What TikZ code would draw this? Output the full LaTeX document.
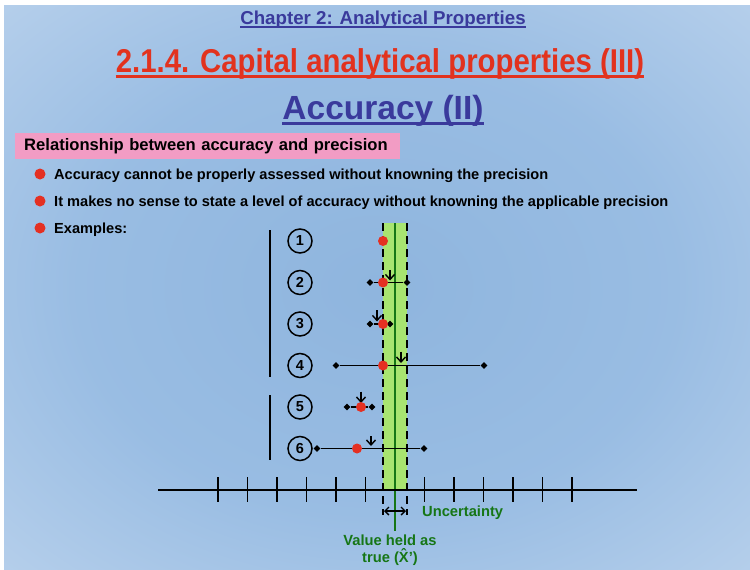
\documentclass[tikz,border=0pt]{standalone}
\usepackage{fontspec}
\setmainfont{Liberation Sans}
\newfontfamily\narrowsans{Liberation Sans}[FakeStretch=0.89]
\usepackage{tikz}
\usetikzlibrary{arrows.meta,positioning,shapes.geometric}

\definecolor{chapblue}{RGB}{58,58,156}
\definecolor{titlered}{RGB}{226,50,30}
\definecolor{truegreen}{RGB}{22,118,22}
\definecolor{bandgreen}{RGB}{168,228,112}
\definecolor{boxpink}{RGB}{242,156,196}
\definecolor{dotred}{RGB}{228,48,34}
\pgfdeclareradialshading{slidebg}{\pgfpoint{0bp}{0bp}}{rgb(0bp)=(0.56,0.71,0.87);rgb(20bp)=(0.60,0.74,0.89);rgb(40bp)=(0.74,0.83,0.93);rgb(55bp)=(0.88,0.88,0.95);rgb(70bp)=(0.96,0.91,0.97);rgb(80bp)=(0.96,0.91,0.97)}

\begin{document}
\begin{tikzpicture}[
    x=1pt, y=-1pt,
    heading/.style={inner sep=0pt, anchor=base, font=\bfseries},
    pinkbox/.style={fill=boxpink, inner xsep=9pt, text width=367pt, align=left, minimum height=26pt, anchor=west, font=\bfseries\fontsize{16.6}{18}\selectfont},
    bullet/.style={circle, fill=dotred, inner sep=0pt, minimum size=11pt},
    item/.style={inner sep=0pt, anchor=base west, font=\bfseries\fontsize{14.6}{16}\selectfont},
    numcirc/.style={circle, draw, line width=1.5pt, inner sep=0pt, minimum size=24pt, font=\bfseries\fontsize{14.5}{15}\selectfont},
    reddot/.style={circle, fill=dotred, inner sep=0pt, minimum size=10pt},
    barend/.style={diamond, fill=black, inner sep=0pt, minimum size=7pt},
    errbar/.style={line width=1.7pt},
    meanarrow/.style={-{Straight Barb[length=5pt,width=9pt]}, line width=1.4pt},
    limit/.style={line width=2.2pt, dash pattern=on 8pt off 5pt},
    axtick/.style={line width=1.6pt},
    greentxt/.style={inner sep=0pt, text=truegreen, font=\bfseries\fontsize{14.7}{17}\selectfont},
  ]
    \useasboundingbox (0,0) rectangle (750,570);
    \fill[white] (0,0) rectangle (750,570);
    \shade[shading=slidebg] (4,5) rectangle (750,570);

    % titles
    \node[heading, text=chapblue, font=\bfseries\fontsize{18.7}{20}\selectfont] (chapter) at (383,24) {Chapter 2: Analytical Properties};
    \draw[chapblue, line width=1.6pt] ([yshift=-3pt]chapter.base west) -- ([yshift=-3pt]chapter.base east);
    \node[heading, text=titlered, font=\narrowsans\bfseries\fontsize{33}{36}\selectfont] (title) at (380,72) {2.1.4. Capital analytical properties (III)};
    \draw[titlered, line width=2.8pt] ([yshift=-4.5pt]title.base west) -- ([yshift=-4.5pt]title.base east);
    \node[heading, text=chapblue, font=\bfseries\fontsize{33.5}{36}\selectfont] (accuracy) at (383,119) {Accuracy (II)};
    \draw[chapblue, line width=2.8pt] ([yshift=-4.5pt]accuracy.base west) -- ([yshift=-4.5pt]accuracy.base east);

    % box and bullets
    \node[pinkbox] (relbox) at (15,146) {Relationship between accuracy and precision};
    \node[bullet] (b1) at (40,174) {};
    \node[item] (t1) at (54,179) {Accuracy cannot be properly assessed without knowning the precision};
    \node[bullet] (b2) at (40,201) {};
    \node[item] (t2) at (54,206) {It makes no sense to state a level of accuracy without knowning the applicable precision};
    \node[bullet] (b3) at (40,228) {};
    \node[item] (t3) at (54,233) {Examples:};

    % brackets
    \coordinate (brA1) at (270,230);
    \coordinate (brA2) at (270,377);
    \coordinate (brB1) at (270,395);
    \coordinate (brB2) at (270,460);
    \draw[line width=1.6pt] (brA1) -- (brA2);
    \draw[line width=1.6pt] (brB1) -- (brB2);

    % true value band
    \fill[bandgreen] (383,223) rectangle (407,490);
    \coordinate (limL1) at (383,223);
    \coordinate (limL2) at (383,515);
    \coordinate (limR1) at (407,223);
    \coordinate (limR2) at (407,515);
    \coordinate (true1) at (395,223);
    \coordinate (true2) at (395,531);
    \draw[limit] (limL1) -- (limL2);
    \draw[limit] (limR1) -- (limR2);
    \draw[truegreen, line width=2.8pt] (true1) -- (true2);

    % axis
    \coordinate (axL) at (158,490);
    \coordinate (axR) at (637,490);
    \draw[line width=2.2pt] (axL) -- (axR);
    \foreach \k in {-6,...,-1,1,2,...,6}
      \draw[axtick] (395+29.5*\k,477) -- (395+29.5*\k,502);

    % numbers
    \node[numcirc] (n1) at (300,241) {1};
    \node[numcirc] (n2) at (300,282.5) {2};
    \node[numcirc] (n3) at (300,324) {3};
    \node[numcirc] (n4) at (300,365.5) {4};
    \node[numcirc] (n5) at (300,407) {5};
    \node[numcirc] (n6) at (300,448.5) {6};

    % example 1
    \node[reddot] (d1) at (383,241) {};

    % example 2
    \node[barend] (e2l) at (370,282.5) {};
    \node[barend] (e2r) at (407,282.5) {};
    \draw[errbar] (e2l) -- (e2r);
    \coordinate (m2a) at (390,270);
    \coordinate (m2b) at (390,280.5);
    \draw[meanarrow] (m2a) -- (m2b);
    \node[reddot] (d2) at (383,282.5) {};

    % example 3
    \node[barend] (e3l) at (370,324) {};
    \node[barend] (e3r) at (390,324) {};
    \draw[errbar] (e3l) -- (e3r);
    \coordinate (m3a) at (377,310);
    \coordinate (m3b) at (377,321.5);
    \draw[meanarrow] (m3a) -- (m3b);
    \node[reddot] (d3) at (383,324) {};

    % example 4
    \node[barend] (e4l) at (336,365.5) {};
    \node[barend] (e4r) at (484,365.5) {};
    \draw[errbar] (e4l) -- (e4r);
    \coordinate (m4a) at (401,351.5);
    \coordinate (m4b) at (401,363);
    \draw[meanarrow] (m4a) -- (m4b);
    \node[reddot] (d4) at (383,365.5) {};

    % example 5
    \node[barend] (e5l) at (347,407) {};
    \node[barend] (e5r) at (372,407) {};
    \draw[errbar] (e5l) -- (e5r);
    \coordinate (m5a) at (361,391.5);
    \coordinate (m5b) at (361,403);
    \draw[meanarrow] (m5a) -- (m5b);
    \node[reddot] (d5) at (361,407) {};

    % example 6
    \node[barend] (e6l) at (317,448.5) {};
    \node[barend] (e6r) at (424,448.5) {};
    \draw[errbar] (e6l) -- (e6r);
    \coordinate (m6a) at (371,436);
    \coordinate (m6b) at (371,446);
    \draw[meanarrow] (m6a) -- (m6b);
    \node[reddot] (d6) at (357,448.5) {};

    % uncertainty and true value labels
    \coordinate (uncL) at (384,511);
    \coordinate (uncR) at (406,511);
    \draw[{Straight Barb[length=4pt,width=8pt]}-{Straight Barb[length=4pt,width=8pt]}, line width=1.4pt] (uncL) -- (uncR);
    \node[greentxt, anchor=west] (unclabel) at (422,513) {Uncertainty};
    \node[greentxt, align=center] (truelabel) at (390,550) {Value held as\\true (\^{X}')};
  \end{tikzpicture}
\end{document}
